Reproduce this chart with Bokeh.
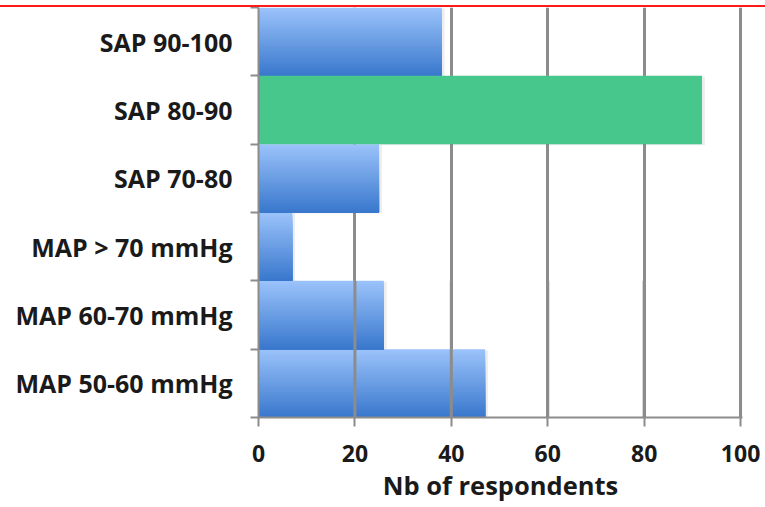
import numpy as np
from bokeh.plotting import figure
from bokeh.models import FixedTicker, Div, Range1d
from bokeh.layouts import column
from bokeh.embed import file_html
from bokeh.resources import INLINE

# ---- data ----
categories = ["MAP 50-60 mmHg", "MAP 60-70 mmHg", "MAP > 70 mmHg",
              "SAP 70-80", "SAP 80-90", "SAP 90-100"]
respondents = [47, 26, 7, 25, 92, 38]
highlight = ["SAP 80-90"]
grid_over_rows = ["MAP 50-60 mmHg", "MAP 60-70 mmHg"]
x_ticks = [0, 20, 40, 60, 80, 100]
x_label = "Nb of respondents"

FONT = "Open Sans"
TXT = "#1a1a1a"
GRID = "#8c8c8c"
GREEN = "#47c78b"
TOP_BLUE = np.array([0x9a, 0xc2, 0xfa])
BOT_BLUE = np.array([0x3a, 0x78, 0xcd])

ypos = list(range(len(categories)))

p = figure(width=765, height=500, output_backend="svg", toolbar_location=None,
           x_range=Range1d(0, 100.4), y_range=Range1d(-0.5, len(categories) - 0.5),
           min_border_left=258, min_border_right=23, min_border_top=0,
           min_border_bottom=90)
p.outline_line_color = None
p.background_fill_color = "white"

# gradient bars: stacked stripes, each reaching down to the bar bottom
N = 40
ys, hs, rights, cols = [], [], [], []
gy, gr = [], []
for cat, v, y in zip(categories, respondents, ypos):
    if cat in highlight:
        gy.append(y)
        gr.append(v)
        continue
    for k in range(N):
        t = k / (N - 1)
        c = TOP_BLUE + (BOT_BLUE - TOP_BLUE) * t
        top = y + 0.5 - k / N
        bot = y - 0.5
        ys.append((top + bot) / 2)
        hs.append(top - bot)
        rights.append(v)
        cols.append("#%02x%02x%02x" % tuple(int(round(x)) for x in c))

# soft shadow
p.hbar(y=[y - 0.015 for y in ypos], left=0, right=[v + 0.6 for v in respondents],
       height=1.0, fill_color="#000000", fill_alpha=0.07, line_color=None)
p.hbar(y=ys, left=0, right=rights, height=hs, fill_color=cols, line_color=None)
p.hbar(y=gy, left=0, right=gr, height=1.0, fill_color=GREEN, line_color=None)

# gridlines drawn over the lower bars
sx0, sy0, sy1 = [], [], []
for cat, y in zip(categories, ypos):
    if cat in grid_over_rows:
        for t in x_ticks[1:]:
            sx0.append(t)
            sy0.append(y - 0.5)
            sy1.append(y + 0.5)
p.segment(x0=sx0, x1=sx0, y0=sy0, y1=sy1, line_color=GRID, line_width=3)

# grid
p.xgrid.ticker = FixedTicker(ticks=x_ticks)
p.xgrid.grid_line_color = GRID
p.xgrid.grid_line_width = 3
p.ygrid.grid_line_color = None

# x axis
p.xaxis.ticker = FixedTicker(ticks=x_ticks)
p.xaxis.axis_line_color = GRID
p.xaxis.axis_line_width = 2
p.xaxis.major_tick_line_color = GRID
p.xaxis.major_tick_line_width = 2
p.xaxis.major_tick_out = 9
p.xaxis.major_tick_in = 0
p.xaxis.minor_tick_line_color = None
p.xaxis.major_label_text_font = FONT
p.xaxis.major_label_text_font_style = "bold"
p.xaxis.major_label_text_font_size = "23px"
p.xaxis.major_label_text_color = TXT
p.xaxis.major_label_standoff = 18
p.xaxis.axis_label = x_label
p.xaxis.axis_label_text_font = FONT
p.xaxis.axis_label_text_font_style = "bold"
p.xaxis.axis_label_text_font_size = "25.5px"
p.xaxis.axis_label_text_color = TXT
p.xaxis.axis_label_standoff = 3

# y axis
boundaries = [y - 0.5 for y in ypos] + [ypos[-1] + 0.5]
p.yaxis.ticker = FixedTicker(ticks=ypos, minor_ticks=boundaries)
p.yaxis.major_label_overrides = {y: c for y, c in zip(ypos, categories)}
p.yaxis.axis_line_color = GRID
p.yaxis.axis_line_width = 2
p.yaxis.major_tick_line_color = None
p.yaxis.major_tick_out = 0
p.yaxis.major_tick_in = 0
p.yaxis.minor_tick_line_color = GRID
p.yaxis.minor_tick_line_width = 2
p.yaxis.minor_tick_out = 8
p.yaxis.minor_tick_in = 0
p.yaxis.major_label_text_font = FONT
p.yaxis.major_label_text_font_style = "bold"
p.yaxis.major_label_text_font_size = "25px"
p.yaxis.major_label_text_color = TXT
p.yaxis.major_label_standoff = 18

top = Div(text="", width=765, height=7, margin=0,
          styles={"border-bottom": "2px solid #ff1a1a", "width": "765px"})

layout = column(top, p, spacing=0)
open("out.html", "w").write(file_html(layout, INLINE))
